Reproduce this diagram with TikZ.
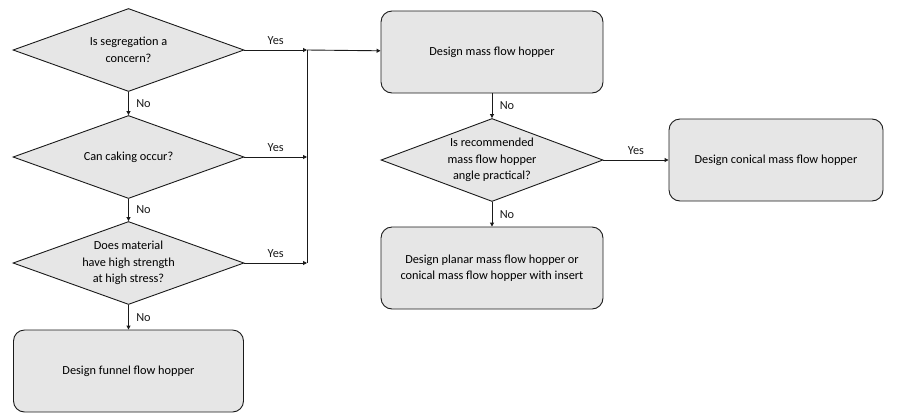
\documentclass[tikz,border=0pt]{standalone}
\usepackage{fontspec}
\setmainfont{Carlito}
\usepackage{tikz}
\usetikzlibrary{arrows.meta,shapes.geometric}
\definecolor{BoxFill}{HTML}{E6E6E6}
\definecolor{Ink}{HTML}{1A1A1A}

\begin{document}
\begin{tikzpicture}[x=1pt,y=-1pt,
  decision/.style={diamond,draw=Ink,fill=BoxFill,line width=0.9pt,aspect=2.78,minimum width=231pt,minimum height=83pt,inner sep=0pt,align=center,font=\fontsize{12.3}{16.5}\selectfont},
  outcome/.style={draw=Ink,fill=BoxFill,line width=0.9pt,rounded corners=11pt,minimum height=82pt,align=center,font=\fontsize{12.3}{16.5}\selectfont},
  arr/.style={-{Triangle[length=4pt,width=4pt]},draw=Ink,line width=0.9pt},
  link/.style={draw=Ink,line width=0.9pt},
  tag/.style={font=\fontsize{12.3}{14}\selectfont,text=Ink}
]
\useasboundingbox (0,0) rectangle (904,413);

\node[decision] (segregation) at (128.5,50) {Is segregation a\\concern?};
\node[decision] (caking) at (128.5,157) {Can caking occur?};
\node[decision] (strength) at (128.5,263) {Does material\\have high strength\\at high stress?};
\node[outcome,minimum width=230pt] (funnel) at (128.5,371) {Design funnel flow hopper};

\node[outcome,minimum width=222pt] (massFlow) at (492,52) {Design mass flow hopper};
\node[decision,minimum width=222pt,aspect=2.67] (angle) at (492,160) {Is recommended\\mass flow hopper\\angle practical?};
\node[outcome,minimum width=214pt] (conical) at (776,160) {Design conical mass flow hopper};
\node[outcome,minimum width=222pt] (planar) at (492,268) {Design planar mass flow hopper or\\conical mass flow hopper with insert};

\coordinate (mergeTop) at (307,50);
\coordinate (mergeBottom) at (307,263);

\draw[arr] (segregation) -- node[tag,above=2pt] {Yes} (mergeTop);
\draw[arr] (caking) -- node[tag,above=2pt] {Yes} (caking -| mergeTop);
\draw[arr] (strength) -- node[tag,above=2pt] {Yes} (mergeBottom);
\draw[link] (mergeTop) -- (mergeBottom);
\draw[arr] (mergeTop) -- (massFlow);

\draw[arr] (segregation) -- node[tag,right=4pt] {No} (caking);
\draw[arr] (caking) -- node[tag,right=4pt] {No} (strength);
\draw[arr] (strength) -- node[tag,right=4pt] {No} (funnel);

\draw[arr] (massFlow) -- node[tag,right=4pt] {No} (angle);
\draw[arr] (angle) -- node[tag,above=2pt] {Yes} (conical);
\draw[arr] (angle) -- node[tag,right=4pt] {No} (planar);
\end{tikzpicture}
\end{document}
